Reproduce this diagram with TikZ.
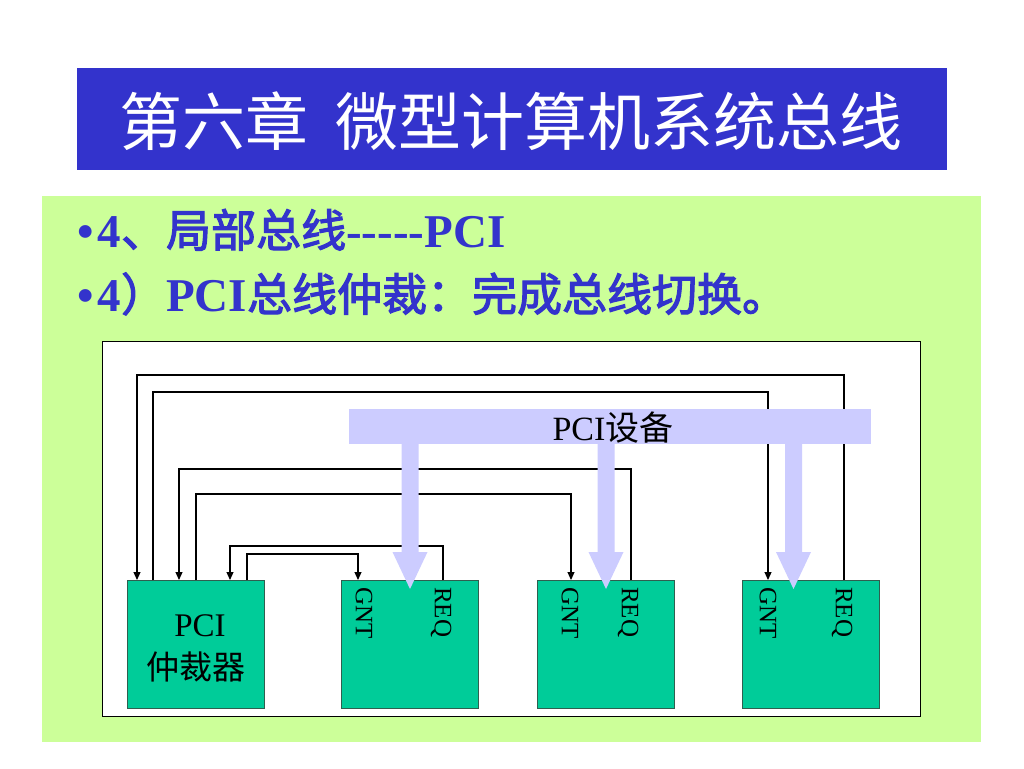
\documentclass[tikz,border=0pt]{standalone}
\usepackage{fontspec}
\setmainfont{Liberation Serif}
\newfontfamily\cjk{Noto Sans CJK SC}
\newfontfamily\cjkb{Noto Sans CJK SC}[FakeBold=2.5]
\usetikzlibrary{arrows.meta}
\definecolor{titleblue}{HTML}{3333CC}
\definecolor{panelgreen}{HTML}{CCFF99}
\definecolor{boxgreen}{HTML}{00CC99}
\definecolor{busblue}{HTML}{CCCCFF}
\definecolor{boxedge}{HTML}{2F5F4F}
\newcommand{\zh}[1]{{\cjkb\mdseries\fontsize{45}{50}\selectfont #1}}
\begin{document}
\begin{tikzpicture}[x=1pt,y=-1pt,
  plate/.style={inner sep=0pt, outer sep=0pt},
  devbox/.style={plate, draw=boxedge, line width=0.8pt, fill=boxgreen, minimum width=137pt, minimum height=128pt},
  sig/.style={draw=black, line width=1.1pt},
  sigarr/.style={sig, -{Triangle[length=8pt,width=7pt]}},
  pinlbl/.style={rotate=-90, anchor=west, inner sep=0pt, font=\fontsize{25}{25}\selectfont, text height=16.5pt, text depth=0pt},
  bullettext/.style={anchor=base west, inner sep=0pt, text=titleblue, font=\bfseries\fontsize{47}{50}\selectfont},
]
\useasboundingbox (0,0) rectangle (1024,768);
\fill[white] (0,0) rectangle (1024,768);

% title
\node[plate, fill=titleblue, minimum width=870pt, minimum height=102pt] (titlebar) at (512,119) {};
\node[anchor=base, inner sep=0pt, text=white, font=\cjk\fontsize{63}{70}\selectfont] (title) at (511,145) {第六章\hspace{28pt}微型计算机系统总线};

% panel
\node[plate, fill=panelgreen, minimum width=939pt, minimum height=546pt] (panel) at (511.5,469) {};
\node[bullettext] (l1) at (77,247) {•\hspace{4pt}4\zh{、局部总线}-{}-{}-{}-{}-PCI};
\node[bullettext] (l2) at (77,311) {•\hspace{4pt}4\zh{）}PCI\zh{总线仲裁：完成总线切换。}};

% frame
\node[plate, draw=black, fill=white, line width=1pt, minimum width=818pt, minimum height=375pt] (frame) at (511,528.5) {};

% boxes
\node[devbox] (arb) at (196,644) {};
\node[devbox] (d1) at (409.5,644) {};
\node[devbox] (d2) at (606,644) {};
\node[devbox] (d3) at (810.5,644) {};

% pins
\coordinate (a1) at (137,580);
\coordinate (a2) at (153,580);
\coordinate (a3) at (179,580);
\coordinate (a4) at (196,580);
\coordinate (a5) at (230,580);
\coordinate (a6) at (247,580);
\coordinate (g1) at (358,580);
\coordinate (r1) at (443,580);
\coordinate (g2) at (571,580);
\coordinate (r2) at (631,580);
\coordinate (g3) at (768,580);
\coordinate (r3) at (844,580);

% signal lines
\draw[sigarr] (r3) -- ++(0,-205) -| (a1);
\draw[sigarr] (a2) -- ++(0,-188) -| (g3);
\draw[sigarr] (r2) -- ++(0,-111) -| (a3);
\draw[sigarr] (a4) -- ++(0,-86) -| (g2);
\draw[sigarr] (r1) -- ++(0,-34) -| (a5);
\draw[sigarr] (a6) -- ++(0,-26) -| (g1);

% bus bar and big arrows
\node[plate, fill=busblue, minimum width=522pt, minimum height=35pt] (bus) at (610,426.5) {};
\foreach \cx in {410,606,793.5}{
  \fill[busblue] (\cx-8.5,440) -- (\cx+8.5,440) -- (\cx+8.5,552) -- (\cx+17.5,552) -- (\cx,589) -- (\cx-17.5,552) -- (\cx-8.5,552) -- cycle;
}
\node[anchor=base, inner sep=0pt, font=\fontsize{34}{34}\selectfont] (buslbl) at (613,440) {PCI{\cjk 设备}};

% labels
\node[anchor=base, inner sep=0pt, font=\fontsize{33}{33}\selectfont] (arbl1) at (200,636) {PCI};
\node[anchor=base, inner sep=0pt, font=\cjk\fontsize{33}{33}\selectfont] (arbl2) at (196,679) {仲裁器};
\node[pinlbl] (gl1) at (364,587) {GNT};
\node[pinlbl] (rl1) at (443,587) {REQ};
\node[pinlbl] (gl2) at (570,587) {GNT};
\node[pinlbl] (rl2) at (630,587) {REQ};
\node[pinlbl] (gl3) at (768,587) {GNT};
\node[pinlbl] (rl3) at (844,587) {REQ};
\end{tikzpicture}
\end{document}
